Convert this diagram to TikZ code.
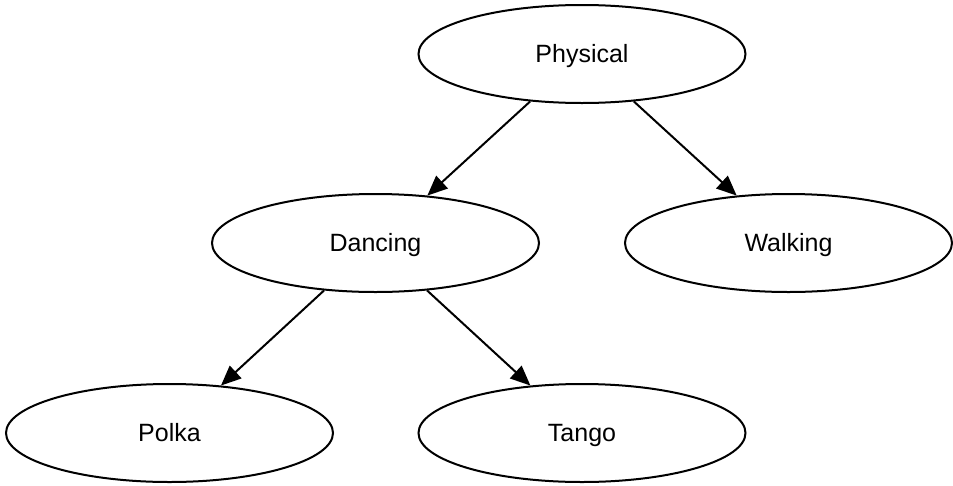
\documentclass[tikz,border=0pt]{standalone}
\usepackage{fontspec}
\setmainfont{Liberation Sans}
\usetikzlibrary{shapes.geometric,arrows.meta}
\begin{document}
\begin{tikzpicture}[x=1pt,y=-1pt,
  oval/.style={draw=black,line width=2pt,ellipse,inner sep=0pt,minimum width=327pt,minimum height=98pt,text height=18pt,text depth=2pt,font=\fontsize{25}{29}\selectfont},
  link/.style={line width=2pt,-{Triangle[length=20pt,width=17pt]}}]
\useasboundingbox (0,0) rectangle (953,485);
\node[oval] (phys) at (582,54) {Physical};
\node[oval] (danc) at (375.5,243) {Dancing};
\node[oval] (walk) at (788.5,243) {Walking};
\node[oval] (polk) at (169.5,433) {Polka};
\node[oval] (tang) at (582,433) {Tango};
\draw[link] (phys) -- (danc);
\draw[link] (phys) -- (walk);
\draw[link] (danc) -- (polk);
\draw[link] (danc) -- (tang);
\end{tikzpicture}
\end{document}
